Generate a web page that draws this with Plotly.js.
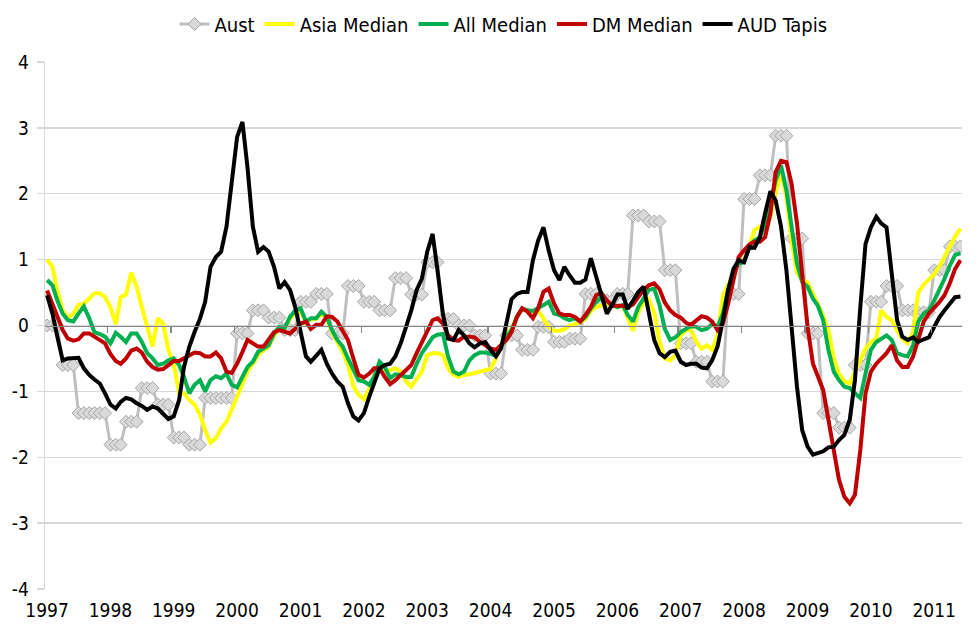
<!DOCTYPE html>
<html>
<head>
<meta charset="utf-8">
<script src="https://cdn.plot.ly/plotly-3.0.1.min.js"></script>
<style>
  html, body { margin: 0; padding: 0; background: #ffffff; }
  #chart { width: 976px; height: 638px; }
</style>
</head>
<body>
<div id="chart"></div>
<script>
// ---- categories: monthly observations, Jan 1997 .. Jun 2011 ----
const startYear = 1997;
const nMonths = 174;
const months = [];
for (let i = 0; i < nMonths; i++) {
  const y = startYear + Math.floor(i / 12);
  const m = (i % 12) + 1;
  months.push(y + '-' + (m < 10 ? '0' + m : m) + '-01');
}
const yearLabels = ['1997','1998','1999','2000','2001','2002','2003','2004','2005','2006','2007','2008','2009','2010','2011'];
const yTickVals = [-4, -3, -2, -1, 0, 1, 2, 3, 4];
const yTickText = ['-4', '-3', '-2', '-1', '0', '1', '2', '3', '4'];

// ---- series values ----
const aust = [
  0.00, 0.00, 0.00, -0.60, -0.60, -0.60, -1.33, -1.33, -1.33, -1.33, -1.33, -1.33,
  -1.81, -1.81, -1.81, -1.46, -1.46, -1.46, -0.95, -0.95, -0.95, -1.20, -1.20, -1.20,
  -1.70, -1.70, -1.70, -1.81, -1.81, -1.81, -1.10, -1.10, -1.10, -1.10, -1.10, -1.10,
  -0.12, -0.12, -0.12, 0.23, 0.23, 0.23, 0.12, 0.12, 0.12, -0.07, -0.07, -0.07,
  0.36, 0.36, 0.36, 0.48, 0.48, 0.48, -0.12, -0.12, -0.12, 0.60, 0.60, 0.60,
  0.36, 0.36, 0.36, 0.23, 0.23, 0.23, 0.72, 0.72, 0.72, 0.47, 0.47, 0.47,
  0.96, 0.96, 0.96, 0.10, 0.10, 0.10, 0.00, 0.00, 0.00, -0.15, -0.15, -0.15,
  -0.73, -0.73, -0.73, -0.15, -0.15, -0.15, -0.37, -0.37, -0.37, -0.02, -0.02, -0.02,
  -0.25, -0.25, -0.25, -0.20, -0.20, -0.20, 0.48, 0.48, 0.48, 0.38, 0.38, 0.38,
  0.48, 0.48, 0.48, 1.67, 1.67, 1.67, 1.58, 1.58, 1.58, 0.84, 0.84, 0.84,
  -0.27, -0.27, -0.27, -0.55, -0.55, -0.55, -0.85, -0.85, -0.85, 0.48, 0.48, 0.48,
  1.92, 1.92, 1.92, 2.28, 2.28, 2.28, 2.88, 2.88, 2.88, 1.32, 1.32, 1.32,
  -0.12, -0.12, -0.12, -1.33, -1.33, -1.33, -1.55, -1.55, -1.55, -0.60, -0.60, -0.60,
  0.36, 0.36, 0.36, 0.60, 0.60, 0.60, 0.23, 0.23, 0.23, 0.20, 0.20, 0.20,
  0.84, 0.84, 0.84, 1.20, 1.20, 1.20
];

const asiaMedian = [
  1.00, 0.89, 0.54, 0.23, 0.11, 0.18, 0.31, 0.33, 0.41, 0.49, 0.49, 0.43,
  0.28, 0.02, 0.43, 0.47, 0.80, 0.59, 0.28, -0.02, -0.32, 0.11, 0.03, -0.37,
  -0.58, -1.03, -1.03, -1.13, -1.20, -1.35, -1.59, -1.78, -1.71, -1.56, -1.46, -1.28,
  -1.09, -0.90, -0.70, -0.58, -0.45, -0.38, -0.32, -0.15, -0.05, -0.05, 0.10, 0.20,
  0.22, 0.05, 0.10, 0.10, 0.18, 0.10, -0.10, -0.25, -0.40, -0.60, -0.92, -1.05,
  -1.12, -0.95, -0.75, -0.68, -0.70, -0.68, -0.65, -0.70, -0.85, -0.93, -0.80, -0.70,
  -0.45, -0.42, -0.42, -0.45, -0.65, -0.75, -0.78, -0.75, -0.74, -0.72, -0.70, -0.68,
  -0.66, -0.50, -0.30, -0.15, -0.05, 0.13, 0.25, 0.22, 0.20, 0.23, 0.10, -0.02,
  -0.08, -0.08, -0.06, 0.00, 0.02, 0.05, 0.10, 0.22, 0.28, 0.30, 0.33, 0.30,
  0.28, 0.30, 0.10, -0.08, 0.20, 0.35, 0.40, 0.20, -0.25, -0.50, -0.53, -0.45,
  -0.15, -0.07, -0.07, -0.25, -0.35, -0.30, -0.37, -0.15, 0.45, 0.62, 0.80, 0.95,
  1.00, 1.20, 1.45, 1.50, 1.40, 1.65, 2.00, 2.35, 1.95, 1.29, 0.80, 0.70,
  0.65, 0.48, 0.35, 0.15, -0.07, -0.50, -0.73, -0.85, -0.88, -0.70, -0.50, -0.35,
  -0.25, -0.20, 0.23, 0.13, 0.08, -0.08, -0.20, -0.27, -0.10, 0.50, 0.62, 0.70,
  0.78, 0.90, 1.05, 1.20, 1.35, 1.47
];

const allMedian = [
  0.69, 0.61, 0.38, 0.18, 0.08, 0.06, 0.18, 0.29, 0.11, -0.10, -0.13, -0.17,
  -0.27, -0.11, -0.17, -0.25, -0.12, -0.12, -0.25, -0.42, -0.50, -0.60, -0.58, -0.53,
  -0.50, -0.60, -0.78, -1.03, -0.90, -0.83, -1.00, -0.83, -0.77, -0.80, -0.73, -0.90,
  -0.94, -0.78, -0.63, -0.55, -0.40, -0.35, -0.30, -0.12, -0.02, -0.04, 0.13, 0.23,
  0.26, 0.06, 0.11, 0.11, 0.21, 0.13, -0.07, -0.22, -0.32, -0.50, -0.68, -0.83,
  -0.85, -0.90, -0.78, -0.55, -0.63, -0.80, -0.74, -0.75, -0.78, -0.78, -0.58, -0.42,
  -0.30, -0.18, -0.14, -0.13, -0.47, -0.70, -0.74, -0.70, -0.53, -0.45, -0.41, -0.41,
  -0.43, -0.46, -0.32, -0.17, -0.07, 0.13, 0.26, 0.23, 0.22, 0.26, 0.31, 0.36,
  0.18, 0.16, 0.11, 0.08, 0.11, 0.06, 0.13, 0.26, 0.36, 0.43, 0.36, 0.31,
  0.28, 0.31, 0.16, 0.06, 0.28, 0.41, 0.54, 0.56, 0.31, -0.05, -0.22, -0.18,
  -0.10, -0.05, -0.01, -0.02, -0.07, -0.05, 0.02, -0.02, 0.18, 0.54, 0.79, 0.94,
  0.96, 1.22, 1.29, 1.34, 1.52, 1.85, 2.20, 2.43, 2.05, 1.50, 0.94, 0.66,
  0.59, 0.41, 0.30, 0.08, -0.37, -0.70, -0.83, -0.93, -0.95, -1.03, -1.10, -0.73,
  -0.37, -0.25, -0.20, -0.15, -0.22, -0.42, -0.45, -0.47, -0.30, 0.06, 0.18, 0.23,
  0.38, 0.54, 0.71, 0.91, 1.07, 1.10
];

const dmMedian = [
  0.53, 0.33, 0.13, -0.07, -0.20, -0.23, -0.21, -0.12, -0.12, -0.17, -0.22, -0.27,
  -0.43, -0.54, -0.58, -0.50, -0.38, -0.35, -0.41, -0.55, -0.63, -0.67, -0.66, -0.60,
  -0.54, -0.54, -0.50, -0.47, -0.41, -0.42, -0.47, -0.47, -0.41, -0.50, -0.70, -0.72,
  -0.58, -0.40, -0.22, -0.27, -0.32, -0.32, -0.22, -0.10, -0.07, -0.10, -0.12, -0.05,
  0.03, 0.06, -0.05, 0.01, 0.01, 0.14, 0.13, 0.06, -0.07, -0.22, -0.50, -0.75,
  -0.79, -0.73, -0.65, -0.65, -0.78, -0.89, -0.83, -0.75, -0.68, -0.60, -0.42, -0.25,
  -0.07, 0.08, 0.11, 0.03, -0.15, -0.22, -0.23, -0.17, -0.17, -0.18, -0.25, -0.30,
  -0.35, -0.37, -0.30, -0.22, -0.10, 0.13, 0.26, 0.21, 0.11, 0.26, 0.51, 0.56,
  0.33, 0.18, 0.16, 0.16, 0.13, 0.06, 0.16, 0.28, 0.46, 0.49, 0.38, 0.30,
  0.30, 0.30, 0.28, 0.32, 0.43, 0.54, 0.61, 0.64, 0.55, 0.35, 0.23, 0.16,
  0.12, 0.04, 0.01, 0.07, 0.14, 0.12, 0.06, -0.07, 0.03, 0.33, 0.69, 1.04,
  1.14, 1.23, 1.27, 1.27, 1.34, 1.70, 2.33, 2.50, 2.48, 2.15, 1.55, 0.74,
  -0.02, -0.58, -0.78, -0.98, -1.43, -1.89, -2.34, -2.60, -2.70, -2.57, -1.89, -1.03,
  -0.70, -0.58, -0.50, -0.42, -0.30, -0.53, -0.63, -0.63, -0.47, -0.20, 0.06, 0.18,
  0.26, 0.36, 0.46, 0.64, 0.86, 0.99
];

const audTapis = [
  0.46, 0.18, -0.17, -0.53, -0.50, -0.50, -0.49, -0.65, -0.75, -0.82, -0.88, -1.03,
  -1.20, -1.26, -1.16, -1.10, -1.12, -1.18, -1.22, -1.28, -1.23, -1.26, -1.34, -1.42,
  -1.38, -1.13, -0.63, -0.32, -0.10, 0.10, 0.36, 0.89, 1.04, 1.12, 1.50, 2.20,
  2.86, 3.09, 2.40, 1.50, 1.12, 1.19, 1.12, 0.89, 0.56, 0.66, 0.54, 0.28,
  -0.07, -0.47, -0.55, -0.45, -0.37, -0.58, -0.73, -0.85, -0.93, -1.18, -1.38, -1.44,
  -1.33, -1.08, -0.88, -0.65, -0.60, -0.58, -0.47, -0.27, -0.02, 0.23, 0.54, 0.71,
  1.12, 1.39, 0.84, 0.18, -0.20, -0.22, -0.07, -0.15, -0.27, -0.33, -0.27, -0.25,
  -0.37, -0.47, -0.35, 0.03, 0.40, 0.48, 0.51, 0.51, 0.99, 1.29, 1.49, 1.14,
  0.84, 0.69, 0.89, 0.76, 0.65, 0.65, 0.70, 1.02, 0.74, 0.43, 0.18, 0.31,
  0.47, 0.47, 0.25, 0.38, 0.51, 0.59, 0.18, -0.22, -0.42, -0.48, -0.40, -0.38,
  -0.55, -0.60, -0.58, -0.58, -0.64, -0.65, -0.53, -0.32, 0.08, 0.54, 0.86, 0.99,
  0.96, 1.19, 1.18, 1.34, 1.70, 2.04, 1.90, 1.50, 0.84, -0.02, -0.93, -1.59,
  -1.84, -1.96, -1.94, -1.91, -1.85, -1.84, -1.74, -1.66, -1.43, -0.83, 0.28, 1.24,
  1.49, 1.65, 1.55, 1.49, 0.79, 0.08, -0.17, -0.22, -0.18, -0.25, -0.21, -0.18,
  -0.02, 0.13, 0.23, 0.33, 0.43, 0.44
];

const yearTicks = yearLabels.map(y => y + '-01-01');
const xRange = ['1996-12-20', '2011-06-10'];
const FONT = "'DejaVu Sans Condensed', 'DejaVu Sans', sans-serif";

const lw = 4;
const traces = [
  { x: months, y: aust, name: 'Aust', type: 'scatter', mode: 'lines+markers',
    line: { color: '#bfbfbf', width: 3 },
    marker: { symbol: 'diamond', size: 10, color: '#d9d9d9', line: { color: '#a6a6a6', width: 1 } } },
  { x: months, y: asiaMedian, name: 'Asia Median', type: 'scatter', mode: 'lines',
    line: { color: '#ffff00', width: lw } },
  { x: months, y: allMedian, name: 'All Median', type: 'scatter', mode: 'lines',
    line: { color: '#00b050', width: lw } },
  { x: months, y: dmMedian, name: 'DM Median', type: 'scatter', mode: 'lines',
    line: { color: '#c00000', width: lw } },
  { x: months, y: audTapis, name: 'AUD Tapis', type: 'scatter', mode: 'lines',
    line: { color: '#000000', width: lw } },
  // carrier for the axis drawn at y = 0
  { x: [months[0]], y: [null], xaxis: 'x2', yaxis: 'y', type: 'scatter', mode: 'lines',
    showlegend: false, hoverinfo: 'skip' }
];

const layout = {
  width: 976, height: 638,
  margin: { l: 45, r: 14, t: 62, b: 49, pad: 0, autoexpand: false },
  paper_bgcolor: '#ffffff', plot_bgcolor: '#ffffff',
  font: { family: FONT, size: 19, color: '#000000' },
  showlegend: true,
  legend: { orientation: 'h', x: 0.5, xanchor: 'center', y: 1.072, yanchor: 'middle',
            font: { family: FONT, size: 20, color: '#000000' }, itemwidth: 30, bgcolor: 'rgba(0,0,0,0)' },
  xaxis: {
    type: 'date', range: xRange, tickmode: 'array', tickvals: yearTicks, ticktext: yearLabels,
    ticks: '', showgrid: false, zeroline: false, showline: false, automargin: false,
    tickfont: { family: FONT, size: 19, color: '#000000' }, ticklabelstandoff: 8
  },
  xaxis2: {
    type: 'date', range: xRange, overlaying: 'x', anchor: 'free', position: 0.5,
    showline: true, linecolor: '#868686', linewidth: 1.3,
    ticks: 'outside', ticklen: 6, tickwidth: 1.3, tickcolor: '#868686',
    tick0: '1996-12-17', dtick: 'M12', showticklabels: false, showgrid: false, zeroline: false
  },
  yaxis: {
    range: [-4, 4], tickmode: 'array', tickvals: yTickVals, ticktext: yTickText,
    showgrid: true, gridcolor: '#d9d9d9', gridwidth: 1.3, automargin: false,
    zeroline: false, showline: true, linecolor: '#d9d9d9', linewidth: 1.3,
    ticks: 'outside', ticklen: 7, tickcolor: '#d9d9d9', tickwidth: 1.3,
    tickfont: { family: FONT, size: 19, color: '#000000' }, ticklabelstandoff: 4
  }
};

Plotly.newPlot('chart', traces, layout, { displayModeBar: false, staticPlot: true });
</script>
</body>
</html>
